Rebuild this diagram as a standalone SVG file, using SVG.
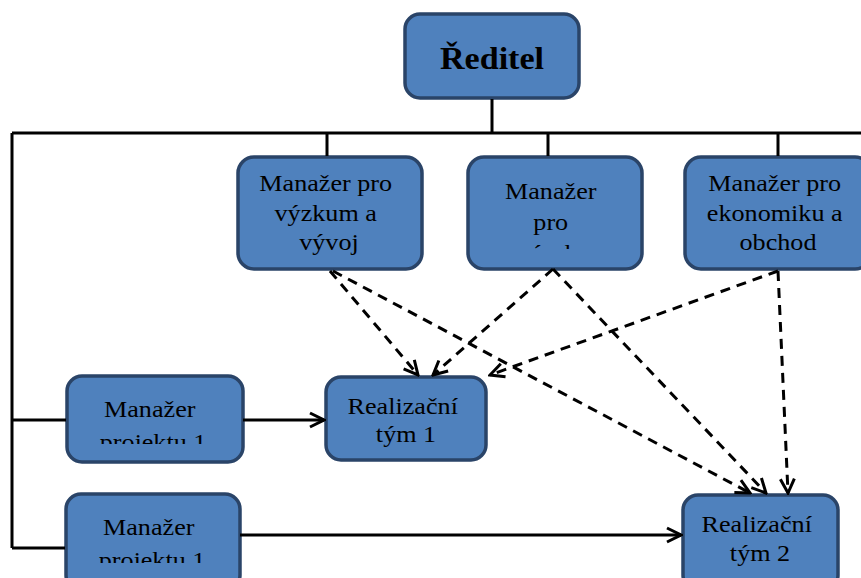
<svg xmlns="http://www.w3.org/2000/svg" width="861" height="578" viewBox="0 0 861 578">
  <style>
    .box { fill: #4f81bd; stroke: #2a4468; stroke-width: 3.5; }
    .lbl { font-family: "Liberation Serif", "Times New Roman", serif; font-size: 24px; fill: #000; text-anchor: middle; }
    .title { font-family: "Liberation Serif", "Times New Roman", serif; font-size: 31px; font-weight: bold; fill: #000; text-anchor: middle; }
    .solid { fill: none; stroke: #000; stroke-width: 3; }
    .dash { fill: none; stroke: #000; stroke-width: 3; stroke-dasharray: 10 7; }
  </style>
  <defs>
    <marker id="arrow" viewBox="0 0 18 18" refX="16" refY="9" markerWidth="18" markerHeight="18" markerUnits="userSpaceOnUse" orient="auto">
      <path d="M2,2 L16,9 L2,16" fill="none" stroke="#000" stroke-width="3"/>
    </marker>
    <clipPath id="clipVyroba"><rect x="467" y="156" width="175" height="93"/></clipPath>
    <clipPath id="clipProj1"><rect x="66" y="375" width="177" height="69"/></clipPath>
    <clipPath id="clipProj2"><rect x="65" y="493" width="175" height="70"/></clipPath>
  </defs>

  <rect width="861" height="578" fill="#fff"/>

  <g id="reditel">
    <rect class="box" x="405" y="14" width="174" height="84" rx="15"/>
    <text class="title" transform="matrix(1.1 0 0 1 492 0)" x="0" y="69">Ředitel</text>
  </g>

  <g id="manazer-vyzkum">
    <rect class="box" x="238" y="157" width="184" height="112" rx="16"/>
    <text class="lbl" transform="matrix(1.09 0 0 1 329 0)">
      <tspan x="0" y="191">Manažer pro</tspan>
      <tspan x="0" y="221">výzkum a</tspan>
      <tspan x="0" y="250">vývoj</tspan>
    </text>
  </g>

  <g id="manazer-vyroba">
    <rect class="box" x="468" y="157" width="174" height="112" rx="16"/>
    <g clip-path="url(#clipVyroba)">
      <text class="lbl" transform="matrix(1.09 0 0 1 554 0)">
        <tspan x="0" y="199">Manažer</tspan>
        <tspan x="0" y="230">pro</tspan>
        <tspan x="0" y="261">výrobu</tspan>
      </text>
    </g>
  </g>

  <g id="manazer-ekonomika">
    <rect class="box" x="685" y="157" width="186" height="112" rx="16"/>
    <text class="lbl" transform="matrix(1.09 0 0 1 778 0)">
      <tspan x="0" y="191">Manažer pro</tspan>
      <tspan x="0" y="221">ekonomiku a</tspan>
      <tspan x="0" y="250">obchod</tspan>
    </text>
  </g>

  <g id="manazer-projektu-a">
    <rect class="box" x="67" y="376" width="176" height="86" rx="15"/>
    <g clip-path="url(#clipProj1)">
      <text class="lbl" transform="matrix(1.09 0 0 1 153 0)">
        <tspan x="0" y="417">Manažer</tspan>
        <tspan x="0" y="450">projektu 1</tspan>
      </text>
    </g>
  </g>

  <g id="manazer-projektu-b">
    <rect class="box" x="66" y="494" width="174" height="96" rx="15"/>
    <g clip-path="url(#clipProj2)">
      <text class="lbl" transform="matrix(1.09 0 0 1 152 0)">
        <tspan x="0" y="535">Manažer</tspan>
        <tspan x="0" y="568">projektu 1</tspan>
      </text>
    </g>
  </g>

  <g id="realizacni-tym-1">
    <rect class="box" x="326" y="377" width="160" height="83" rx="15"/>
    <text class="lbl" transform="matrix(1.09 0 0 1 406 0)">
      <tspan x="0" y="414">Realizační</tspan>
      <tspan x="0" y="442">tým 1</tspan>
    </text>
  </g>

  <g id="realizacni-tym-2">
    <rect class="box" x="683" y="495" width="155" height="95" rx="15"/>
    <text class="lbl" transform="matrix(1.09 0 0 1 760 0)">
      <tspan x="0" y="532">Realizační</tspan>
      <tspan x="0" y="561">tým 2</tspan>
    </text>
  </g>

  <g id="connectors">
    <!-- line management -->
    <path class="solid" d="M492,99 V133"/>
    <path class="solid" d="M12,133 H861"/>
    <path class="solid" d="M327,133 V156 M548,133 V156 M778,133 V156"/>
    <path class="solid" d="M12,133 V548"/>
    <path class="solid" d="M12,420 H66 M12,548 H65"/>
    <path class="solid" d="M243,420 H324" marker-end="url(#arrow)"/>
    <path class="solid" d="M240,535 H681" marker-end="url(#arrow)"/>
    <!-- functional links -->
    <path class="dash" d="M330,271 L418,375" marker-end="url(#arrow)"/>
    <path class="dash" d="M333,271 L750,493" marker-end="url(#arrow)"/>
    <path class="dash" d="M553,269 L433,375" marker-end="url(#arrow)"/>
    <path class="dash" d="M553,269 L766,493" marker-end="url(#arrow)"/>
    <path class="dash" d="M778,271 L490,375" marker-end="url(#arrow)"/>
    <path class="dash" d="M778,271 L788,493" marker-end="url(#arrow)"/>
  </g>
</svg>
